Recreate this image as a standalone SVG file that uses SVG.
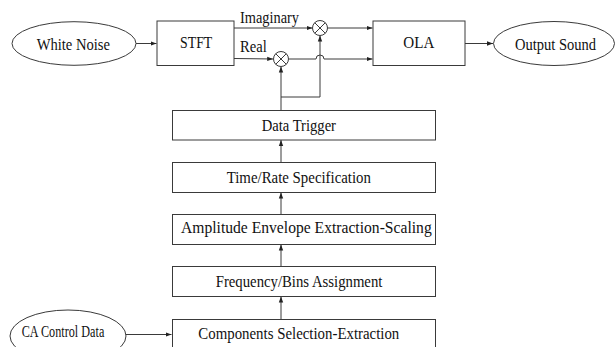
<svg xmlns="http://www.w3.org/2000/svg" width="615" height="347" viewBox="0 0 615 347">
  <style>
    .shape { fill: #ffffff; stroke: #3a3a3a; stroke-width: 1; }
    .wire { fill: none; stroke: #3a3a3a; stroke-width: 1; }
    text { font-family: 'Liberation Serif', 'Times New Roman', 'DejaVu Serif', serif; font-size: 16.5px; fill: #111111; }
  </style>
  <defs>
    <marker id="arrow" markerUnits="userSpaceOnUse" markerWidth="6" markerHeight="6" viewBox="0 0 6 6" refX="6" refY="3" orient="auto">
      <path d="M0,0.8 L6,3 L0,5.2 Z" fill="#222222"/>
    </marker>
  </defs>
  <rect width="615" height="347" fill="#ffffff"/>

  <!-- connectors -->
  <g id="connectors">
    <path class="wire" d="M136,43.5 H156.5" marker-end="url(#arrow)"/>
    <path class="wire" d="M234,28 H312.5" marker-end="url(#arrow)"/>
    <path class="wire" d="M234,58.5 L273.2,59" marker-end="url(#arrow)"/>
    <path class="wire" d="M327.5,28 H372.5" marker-end="url(#arrow)"/>
    <path class="wire" d="M288.5,59 H316 A4,4 0 0 1 324,59 H372.5" marker-end="url(#arrow)"/>
    <path class="wire" d="M465,43.5 H493" marker-end="url(#arrow)"/>
    <path class="wire" d="M281,110.5 V66.5" marker-end="url(#arrow)"/>
    <path class="wire" d="M281,97 H320 V35.5" marker-end="url(#arrow)"/>
    <path class="wire" d="M281,162.5 V140" marker-end="url(#arrow)"/>
    <path class="wire" d="M281,214.5 V192.5" marker-end="url(#arrow)"/>
    <path class="wire" d="M281,266.5 V244.5" marker-end="url(#arrow)"/>
    <path class="wire" d="M281,319.5 V296.5" marker-end="url(#arrow)"/>
    <path class="wire" d="M126,334.5 H171.5" marker-end="url(#arrow)"/>
  </g>

  <g id="white-noise">
    <ellipse class="shape" cx="74" cy="43.5" rx="62" ry="21.8"/>
    <text x="36.7" y="50" textLength="73.3" lengthAdjust="spacingAndGlyphs">White Noise</text>
  </g>

  <g id="stft">
    <rect class="shape" x="157" y="21" width="77" height="44.5"/>
    <text x="180" y="48.3" textLength="32.3" lengthAdjust="spacingAndGlyphs">STFT</text>
  </g>

  <g id="label-imaginary">
    <text x="240" y="22.7" textLength="59" lengthAdjust="spacingAndGlyphs">Imaginary</text>
  </g>
  <g id="label-real">
    <text x="240" y="52" textLength="26.7" lengthAdjust="spacingAndGlyphs">Real</text>
  </g>

  <g id="mult-imag">
    <circle class="shape" cx="320" cy="28" r="7.5"/>
    <path class="wire" d="M314.7,22.7 L325.3,33.3 M325.3,22.7 L314.7,33.3"/>
  </g>

  <g id="mult-real">
    <circle class="shape" cx="281" cy="59" r="7.5"/>
    <path class="wire" d="M275.7,53.7 L286.3,64.3 M286.3,53.7 L275.7,64.3"/>
  </g>

  <g id="ola">
    <rect class="shape" x="373" y="21" width="92" height="44.5"/>
    <text x="403.3" y="48.3" textLength="31" lengthAdjust="spacingAndGlyphs">OLA</text>
  </g>

  <g id="output-sound">
    <ellipse class="shape" cx="554" cy="43.5" rx="60.5" ry="22"/>
    <text x="515" y="50" textLength="81" lengthAdjust="spacingAndGlyphs">Output Sound</text>
  </g>

  <g id="data-trigger">
    <rect class="shape" x="172.5" y="110.5" width="263" height="29.5"/>
    <text x="261.7" y="131" textLength="74.3" lengthAdjust="spacingAndGlyphs">Data Trigger</text>
  </g>

  <g id="time-rate">
    <rect class="shape" x="172.5" y="162.5" width="263" height="30"/>
    <text x="226.7" y="182.7" textLength="144.3" lengthAdjust="spacingAndGlyphs">Time/Rate Specification</text>
  </g>

  <g id="amplitude-envelope">
    <rect class="shape" x="172.5" y="214.5" width="263" height="30"/>
    <text x="181" y="232.7" textLength="250.7" lengthAdjust="spacingAndGlyphs">Amplitude Envelope Extraction-Scaling</text>
  </g>

  <g id="frequency-bins">
    <rect class="shape" x="172.5" y="266.5" width="263" height="30"/>
    <text x="215.7" y="286.7" textLength="166.7" lengthAdjust="spacingAndGlyphs">Frequency/Bins Assignment</text>
  </g>

  <g id="components-selection">
    <rect class="shape" x="172.5" y="319.5" width="263" height="40"/>
    <text x="198.3" y="339" textLength="201" lengthAdjust="spacingAndGlyphs">Components Selection-Extraction</text>
  </g>

  <g id="ca-control-data">
    <ellipse class="shape" cx="68" cy="336" rx="58" ry="26"/>
    <text x="21.7" y="337.3" textLength="82.6" lengthAdjust="spacingAndGlyphs">CA Control Data</text>
  </g>
</svg>
